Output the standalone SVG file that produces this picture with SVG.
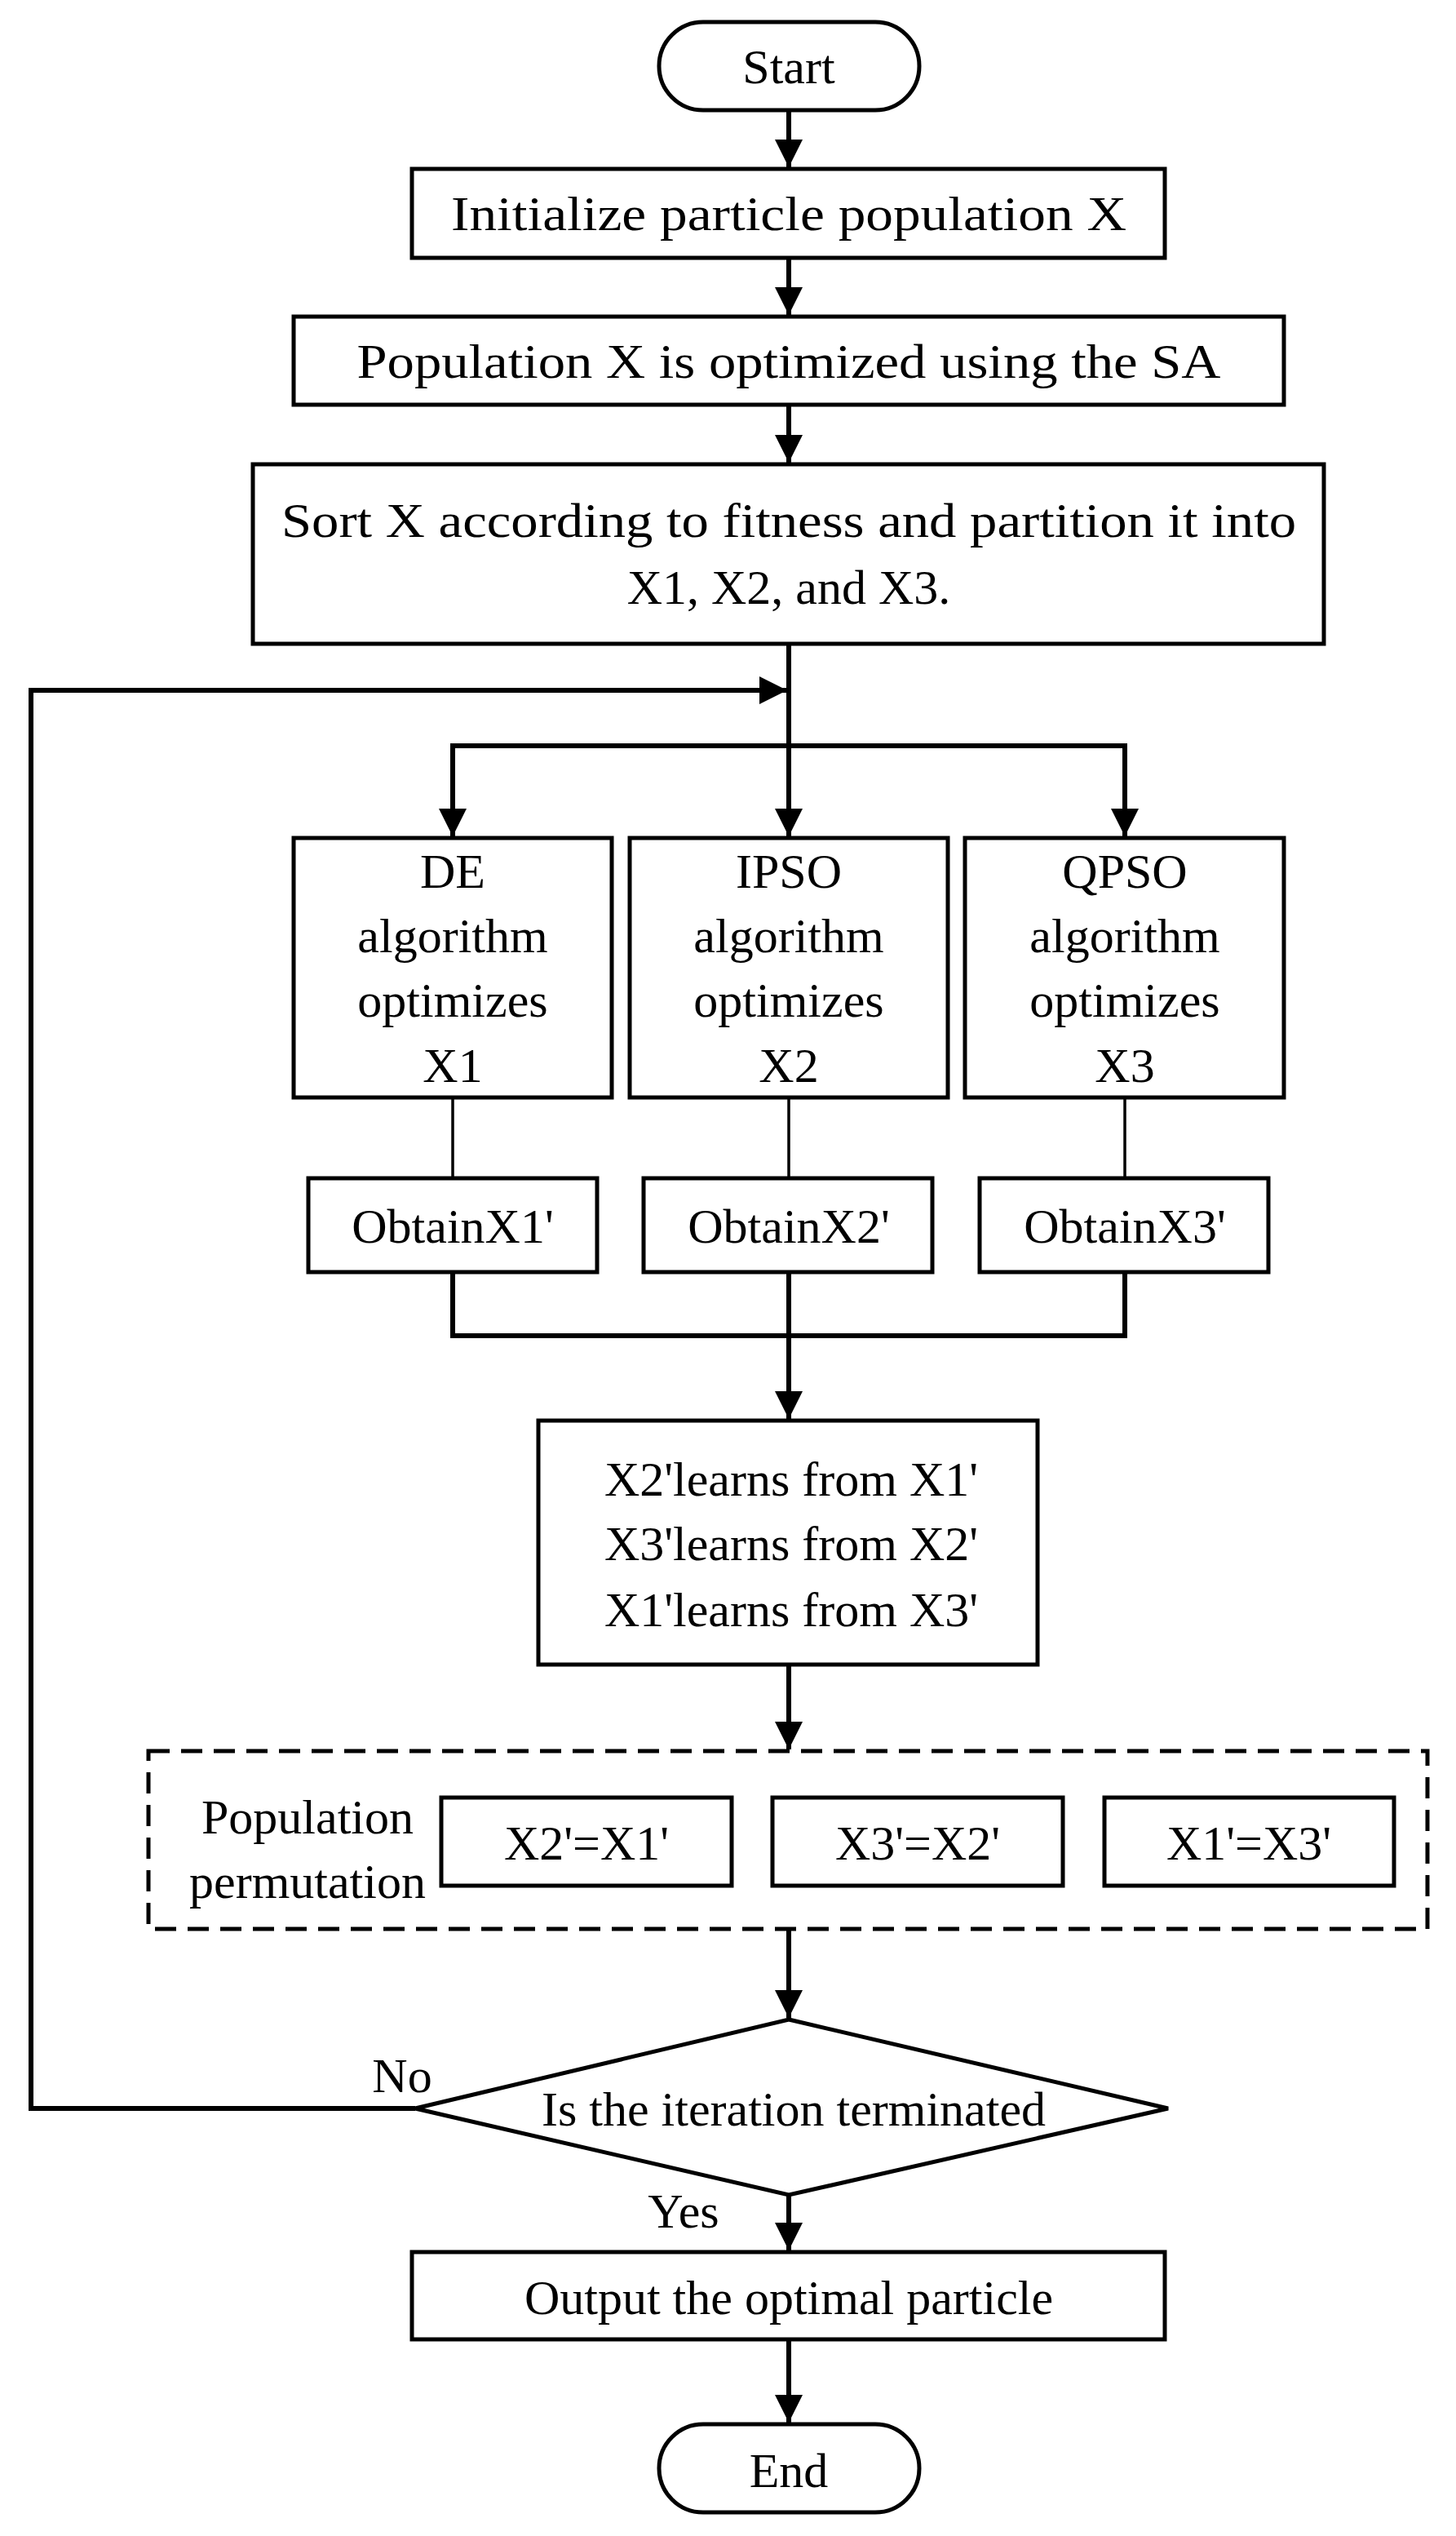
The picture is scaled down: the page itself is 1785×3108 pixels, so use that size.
<svg xmlns="http://www.w3.org/2000/svg" width="1785" height="3108" viewBox="0 0 1785 3108">
<style>
.b{fill:#fff;stroke:#000;stroke-width:5}
.t{font-family:"Liberation Serif",serif;font-size:60px;fill:#000;text-anchor:middle}
.c{fill:none;stroke:#000;stroke-width:6}
.th{fill:none;stroke:#000;stroke-width:3.5}
</style>
<defs>
<marker id="a" markerUnits="userSpaceOnUse" markerWidth="34" markerHeight="44" refX="34" refY="17" orient="auto" viewBox="0 0 34 34"><path d="M0,0 L34,17 L0,34 Z" fill="#000"/></marker>
</defs>
<rect width="1785" height="3108" fill="#fff"/>
<g id="connectors">
<line class="c" x1="967" y1="135" x2="967" y2="205" marker-end="url(#a)"/>
<line class="c" x1="967" y1="316" x2="967" y2="386" marker-end="url(#a)"/>
<line class="c" x1="967" y1="496" x2="967" y2="567" marker-end="url(#a)"/>
<line class="c" x1="967" y1="789" x2="967" y2="1025" marker-end="url(#a)"/>
<polyline class="c" points="555,1025 555,914 1379,914 1379,1025"/>
<line class="c" x1="555" y1="960" x2="555" y2="1025" marker-end="url(#a)"/>
<line class="c" x1="1379" y1="960" x2="1379" y2="1025" marker-end="url(#a)"/>
<line class="th" x1="555" y1="1345" x2="555" y2="1444"/>
<line class="th" x1="967" y1="1345" x2="967" y2="1444"/>
<line class="th" x1="1379" y1="1345" x2="1379" y2="1444"/>
<polyline class="c" points="555,1559 555,1637 1379,1637 1379,1559"/>
<line class="c" x1="967" y1="1559" x2="967" y2="1739" marker-end="url(#a)"/>
<line class="c" x1="967" y1="2040" x2="967" y2="2144" marker-end="url(#a)"/>
<line class="c" x1="967" y1="2364" x2="967" y2="2473" marker-end="url(#a)"/>
<line class="c" x1="967" y1="2690" x2="967" y2="2758" marker-end="url(#a)"/>
<line class="c" x1="967" y1="2867" x2="967" y2="2969" marker-end="url(#a)"/>
<polyline class="c" points="509,2584 38,2584 38,846 965,846" marker-end="url(#a)"/>
</g>
<g id="start"><rect class="b" x="808" y="27" width="319" height="108" rx="54"/><text class="t" x="967" y="102">Start</text></g>
<g id="init"><rect class="b" x="505" y="207" width="923" height="109"/><text class="t" x="967" y="282" textLength="828" lengthAdjust="spacingAndGlyphs">Initialize particle population X</text></g>
<g id="sa"><rect class="b" x="360" y="388" width="1214" height="108"/><text class="t" x="967" y="463" textLength="1059" lengthAdjust="spacingAndGlyphs">Population X is optimized using the SA</text></g>
<g id="sort"><rect class="b" x="310" y="569" width="1313" height="220"/><text class="t" x="967" y="658" textLength="1244" lengthAdjust="spacingAndGlyphs">Sort X according to fitness and partition it into</text><text class="t" x="967" y="740">X1, X2, and X3.</text></g>
<g id="de"><rect class="b" x="360" y="1027" width="390" height="318"/><text class="t" x="555" y="1088">DE</text><text class="t" x="555" y="1167">algorithm</text><text class="t" x="555" y="1246">optimizes</text><text class="t" x="555" y="1326">X1</text></g>
<g id="ipso"><rect class="b" x="772" y="1027" width="390" height="318"/><text class="t" x="967" y="1088">IPSO</text><text class="t" x="967" y="1167">algorithm</text><text class="t" x="967" y="1246">optimizes</text><text class="t" x="967" y="1326">X2</text></g>
<g id="qpso"><rect class="b" x="1183" y="1027" width="391" height="318"/><text class="t" x="1379" y="1088">QPSO</text><text class="t" x="1379" y="1167">algorithm</text><text class="t" x="1379" y="1246">optimizes</text><text class="t" x="1379" y="1326">X3</text></g>
<g id="ob1"><rect class="b" x="378" y="1444" width="354" height="115"/><text class="t" x="555" y="1523">ObtainX1'</text></g>
<g id="ob2"><rect class="b" x="789" y="1444" width="354" height="115"/><text class="t" x="967" y="1523">ObtainX2'</text></g>
<g id="ob3"><rect class="b" x="1201" y="1444" width="354" height="115"/><text class="t" x="1379" y="1523">ObtainX3'</text></g>
<g id="learn"><rect class="b" x="660" y="1741" width="612" height="299"/><text class="t" x="970" y="1833">X2'learns from X1'</text><text class="t" x="970" y="1912">X3'learns from X2'</text><text class="t" x="970" y="1993">X1'learns from X3'</text></g>
<g id="perm"><rect x="182" y="2146" width="1568" height="218" fill="none" stroke="#000" stroke-width="5" stroke-dasharray="26,14"/>
<text class="t" x="377" y="2247">Population</text><text class="t" x="377" y="2326">permutation</text>
<rect class="b" x="541" y="2203" width="356" height="108"/><text class="t" x="719" y="2279">X2'=X1'</text>
<rect class="b" x="947" y="2203" width="356" height="108"/><text class="t" x="1125" y="2279">X3'=X2'</text>
<rect class="b" x="1354" y="2203" width="355" height="108"/><text class="t" x="1531" y="2279">X1'=X3'</text></g>
<g id="decision"><polygon class="b" points="967,2475 1432,2584 967,2690 509,2584"/><text class="t" x="973" y="2605">Is the iteration terminated</text></g>
<g id="labels"><text class="t" x="493" y="2564">No</text><text class="t" x="838" y="2730">Yes</text></g>
<g id="output"><rect class="b" x="505" y="2760" width="923" height="107"/><text class="t" x="967" y="2836">Output the optimal particle</text></g>
<g id="end"><rect class="b" x="808" y="2971" width="319" height="108" rx="54"/><text class="t" x="967" y="3048">End</text></g>
</svg>
